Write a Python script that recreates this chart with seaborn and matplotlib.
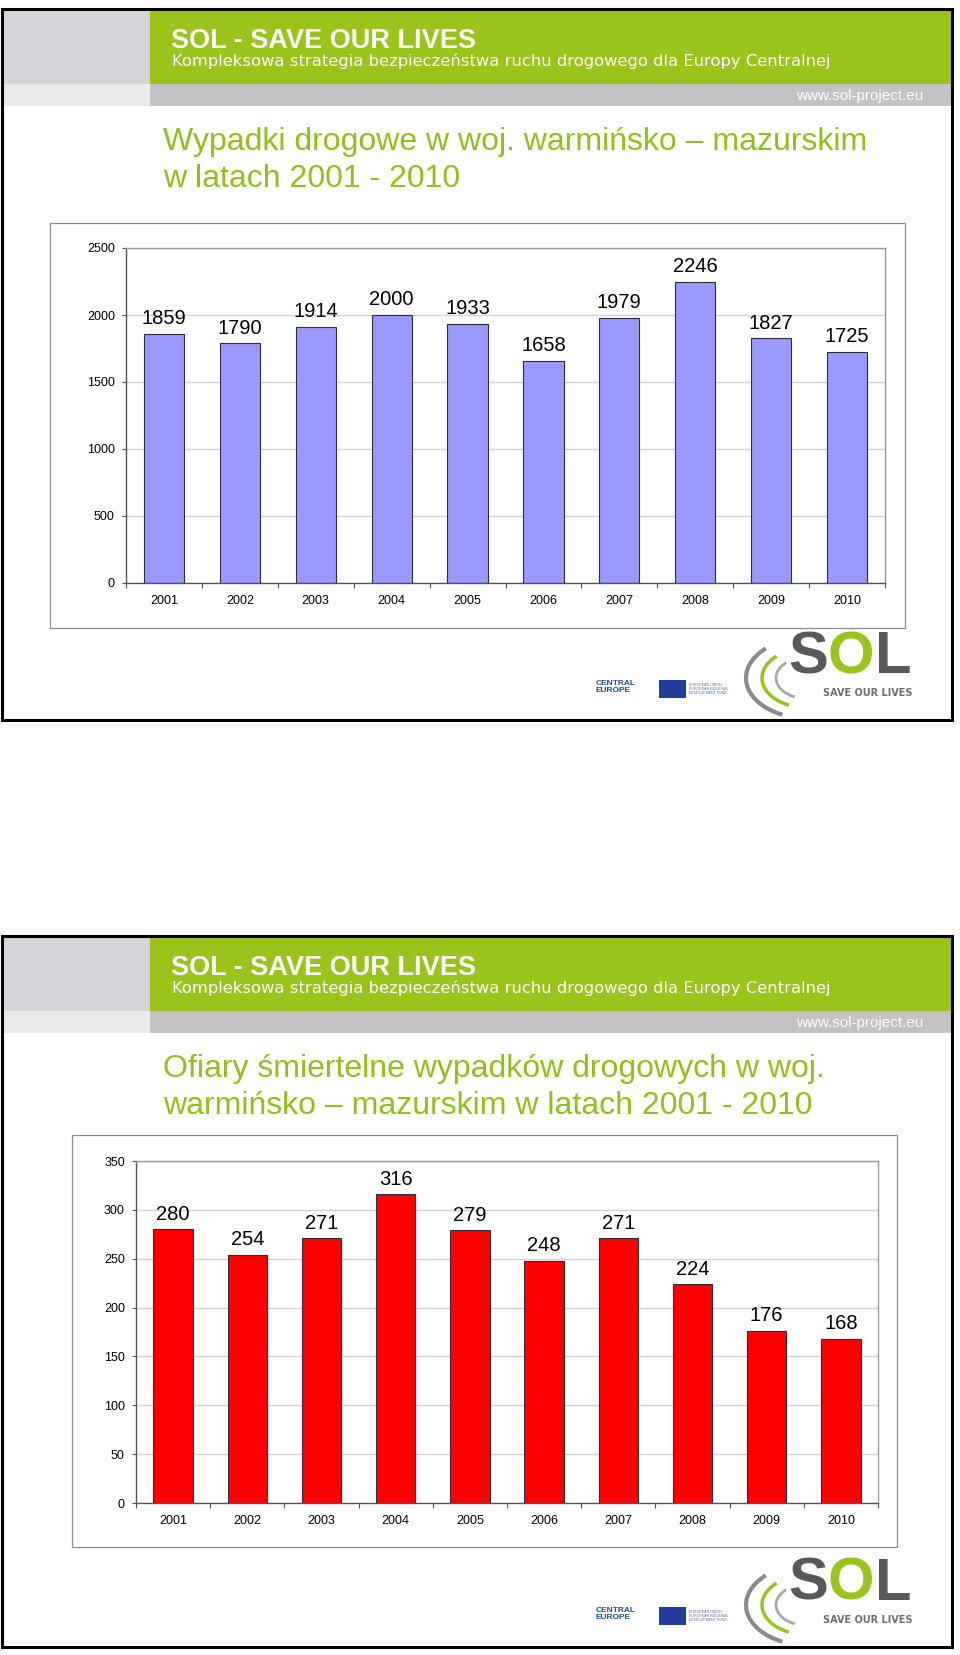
import numpy as np
import matplotlib
matplotlib.use("Agg")
import matplotlib.pyplot as plt
import seaborn as sns
from matplotlib.patches import Rectangle, Arc
from matplotlib.ticker import FixedLocator

# data
years = ["2001", "2002", "2003", "2004", "2005", "2006", "2007", "2008", "2009", "2010"]
accidents = [1859, 1790, 1914, 2000, 1933, 1658, 1979, 2246, 1827, 1725]
fatalities = [280, 254, 271, 316, 279, 248, 271, 224, 176, 168]

title_top = ["Wypadki drogowe w woj. warmińsko – mazurskim", "w latach 2001 - 2010"]
title_bottom = ["Ofiary śmiertelne wypadków drogowych w woj.",
                "warmińsko – mazurskim w latach 2001 - 2010"]
header_main = "SOL - SAVE OUR LIVES"
header_sub = "Kompleksowa strategia bezpieczeństwa ruchu drogowego dla Europy Centralnej"
header_url = "www.sol-project.eu"

sns.set_theme(style="white")
plt.rcParams["font.family"] = ["Liberation Sans", "DejaVu Sans"]

W, H = 960, 1655
GREEN = "#9ac31c"
TITLE_GREEN = "#92bf1c"

fig = plt.figure(figsize=(W / 100, H / 100), dpi=100)

# overlay in pixel coordinates for slide decoration
bg = fig.add_axes([0, 0, 1, 1])
bg.set_xlim(0, W)
bg.set_ylim(H, 0)
bg.axis("off")


def px_axes(x0, y0, x1, y1):
    return fig.add_axes([x0 / W, 1 - y1 / H, (x1 - x0) / W, (y1 - y0) / H])


def draw_slide(top, title_lines):
    # header bands
    bg.add_patch(Rectangle((3, top + 2), 147, 73, color="#d5d5d9", lw=0))
    bg.add_patch(Rectangle((150, top + 2), 801, 73, color=GREEN, lw=0))
    bg.add_patch(Rectangle((3, top + 75), 147, 22, color="#e9e9eb", lw=0))
    bg.add_patch(Rectangle((150, top + 75), 801, 22, color="#c3c3c5", lw=0))
    bg.text(171, top + 39, header_main, color="white", fontsize=19.5,
            fontweight="bold", va="baseline")
    bg.text(172, top + 57, header_sub, color="white", fontsize=11.8,
            family=["DejaVu Sans"], va="baseline")
    bg.text(923, top + 91, header_url, color="white", fontsize=11,
            ha="right", va="baseline")
    # title
    for i, line in enumerate(title_lines):
        bg.text(163, top + 141 + 37 * i, line, color=TITLE_GREEN, fontsize=23,
                va="baseline")
    # slide frame
    bg.add_patch(Rectangle((2, top), 950, 711, fill=False, ec="black", lw=2.2,
                           zorder=5))
    # logos in the footer
    ly = top + 621
    for ch, cx, col in [("S", 788, "#58595b"), ("O", 828, GREEN), ("L", 875, "#58595b")]:
        bg.text(cx, ly + 43, ch, color=col, fontsize=43, fontweight="bold",
                va="baseline")
    bg.text(823, ly + 63, "SAVE OUR LIVES", color="#6d6e70", fontsize=7,
            fontweight="bold", va="center", family=["DejaVu Sans"])
    for r, col, lw in [(62, "#8a8b8d", 3), (46, GREEN, 2.5), (32, "#a7a8aa", 2)]:
        bg.add_patch(Arc((808, ly + 48), 2 * r, 1.3 * r, theta1=125, theta2=215,
                         color=col, lw=lw))
    bg.text(596, ly + 57, "CENTRAL\nEUROPE", color="#1f4e9a", fontsize=6,
            fontweight="bold", va="center", linespacing=0.9)
    bg.add_patch(Rectangle((659, ly + 50), 27, 18, color="#1f3d99", lw=0))
    bg.text(689, ly + 59, "EUROPEAN UNION\nEUROPEAN REGIONAL\nDEVELOPMENT FUND",
            color="#5a6f9a", fontsize=2.6, va="center", linespacing=1.0)


def draw_chart(frame, box, values, color, ymax, step):
    bg.add_patch(Rectangle((frame[0], frame[1]), frame[2] - frame[0],
                           frame[3] - frame[1], fc="white", ec="#8c8c8c", lw=0.9))
    ax = px_axes(*box)
    sns.barplot(x=years, y=values, order=years, color=color, saturation=1,
                edgecolor="#2b2b3a", linewidth=0.8, width=0.53, ax=ax)
    ax.bar_label(ax.containers[0], fontsize=14.5, padding=4, color="black")
    ax.set_ylim(0, ymax)
    ax.set_yticks(np.arange(0, ymax + 1, step))
    ax.yaxis.grid(True, color="#d3d3d3", lw=1)
    ax.set_axisbelow(True)
    ax.set_xlabel("")
    ax.set_ylabel("")
    for side in ["left", "bottom"]:
        ax.spines[side].set_color("#555555")
        ax.spines[side].set_linewidth(1)
    for side in ["top", "right"]:
        ax.spines[side].set_color("#9a9a9a")
        ax.spines[side].set_linewidth(1)
    ax.tick_params(axis="y", length=3, width=0.8, color="#555555", pad=5,
                   labelsize=9, labelcolor="black", left=True)
    ax.tick_params(axis="x", which="major", length=0, pad=9, labelsize=9,
                   labelcolor="black")
    ax.xaxis.set_minor_locator(FixedLocator(np.arange(len(years) + 1) - 0.5))
    ax.tick_params(axis="x", which="minor", length=3.5, width=0.8,
                   color="#555555", bottom=True, direction="out")
    ax.set_xlim(-0.5, len(years) - 0.5)
    return ax


draw_slide(9, title_top)
draw_chart((50, 223, 905, 628), (126, 248, 885, 583), accidents, "#9999ff", 2500, 500)

draw_slide(936, title_bottom)
draw_chart((72, 1135, 897, 1547), (136, 1161, 878, 1503), fatalities, "#ff0000", 350, 50)

fig.savefig("out.png", dpi=100)
